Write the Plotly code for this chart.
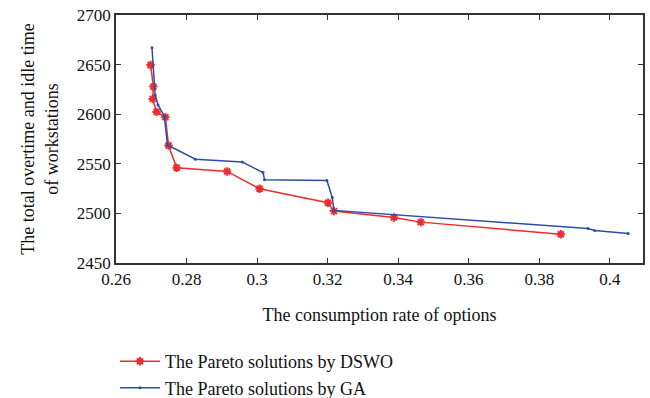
import plotly.graph_objects as go

dswo_x = [0.2698, 0.2706, 0.2704, 0.2715, 0.2740, 0.2749, 0.2772, 0.2915, 0.3007, 0.3201, 0.3218, 0.3388, 0.3464, 0.3861]
dswo_y = [2649.6, 2627.8, 2615.4, 2602.3, 2597.0, 2568.4, 2546.0, 2542.3, 2524.8, 2510.7, 2502.3, 2495.9, 2491.2, 2479.0]

ga_x = [0.2702, 0.2711, 0.2719, 0.2737, 0.2746, 0.2825, 0.2958, 0.3017, 0.3021, 0.3198, 0.3213, 0.3218, 0.3938, 0.3957, 0.4052]
ga_y = [2667.0, 2619.4, 2609.4, 2598.0, 2569.0, 2554.7, 2551.7, 2541.2, 2533.8, 2533.1, 2516.0, 2503.0, 2484.8, 2482.8, 2479.8]

x_ticks = [0.26, 0.28, 0.3, 0.32, 0.34, 0.36, 0.38, 0.4]
x_tick_labels = ["0.26", "0.28", "0.3", "0.32", "0.34", "0.36", "0.38", "0.4"]
y_ticks = [2450, 2500, 2550, 2600, 2650, 2700]

RED = "#ee2b2e"
BLUE = "#2d4ea6"
FONT = "Liberation Serif"

fig = go.Figure()
fig.add_trace(go.Scatter(
    x=dswo_x, y=dswo_y, mode="lines+markers",
    name="The Pareto solutions by DSWO",
    line=dict(color=RED, width=1.5),
    marker=dict(symbol="asterisk-open", size=7, color=RED, line=dict(color=RED, width=2)),
))
fig.add_trace(go.Scatter(
    x=ga_x, y=ga_y, mode="lines+markers",
    name="The Pareto solutions by GA",
    line=dict(color=BLUE, width=1.5),
    marker=dict(symbol="circle", size=3, color=BLUE),
))

axis_common = dict(
    showgrid=False, zeroline=False, showline=True, linecolor="#333333", linewidth=1.5,
    mirror="allticks", ticks="inside", ticklen=5, tickwidth=1.2, tickcolor="#333333",
    tickfont=dict(family=FONT, size=17, color="#111111"), automargin=False,
    ticklabeloverflow="allow",
)

fig.update_xaxes(
    range=[0.26, 0.4094], tickvals=x_ticks, ticktext=x_tick_labels,
    title=dict(text="The consumption rate of options", font=dict(family=FONT, size=18, color="#111111"), standoff=20),
    **axis_common,
)
fig.update_yaxes(
    range=[2450, 2700], tickvals=y_ticks,
    title=dict(text="The total overtime and idle time<br>of workstations", font=dict(family=FONT, size=18, color="#111111"), standoff=14),
    **axis_common,
)

fig.update_layout(
    width=650, height=398,
    margin=dict(l=116, r=7, t=15, b=135, autoexpand=False),
    paper_bgcolor="white", plot_bgcolor="white",
    font=dict(family=FONT),
    showlegend=True,
    legend=dict(
        x=-0.002, y=-0.323, xanchor="left", yanchor="top",
        font=dict(family=FONT, size=18, color="#111111"),
        bgcolor="rgba(0,0,0,0)", tracegroupgap=0, itemwidth=40,
    ),
)

fig.write_html("out.html", post_script="document.body.style.margin='0';",
               config={"displayModeBar": False})
